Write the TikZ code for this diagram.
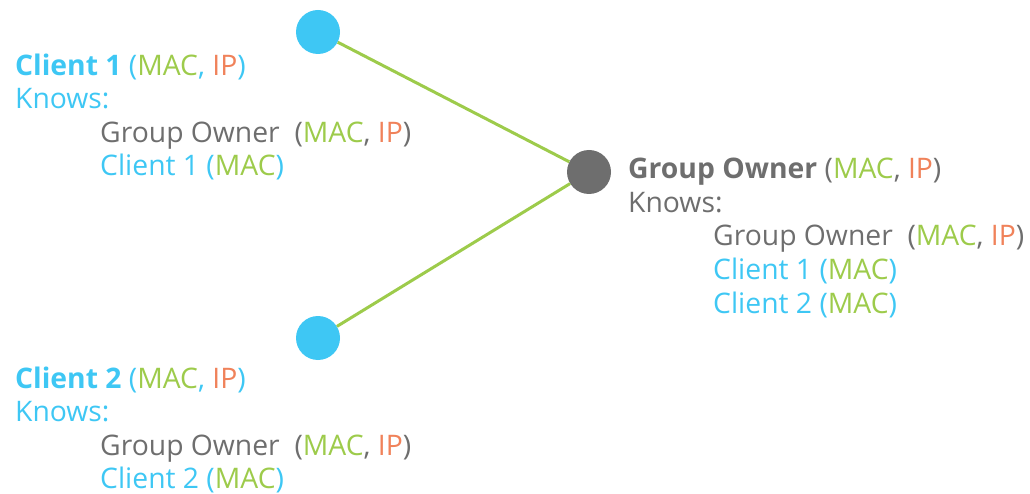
\documentclass[tikz,border=0pt]{standalone}
\usepackage{fontspec}
\setmainfont{Open Sans}
\usepackage{xcolor}
\definecolor{clientblue}{HTML}{3EC7F4}
\definecolor{macgreen}{HTML}{9DCB4B}
\definecolor{iporange}{HTML}{F0825A}
\definecolor{ownergray}{HTML}{6E6E6E}
\newcommand{\macip}{(\textcolor{macgreen}{MAC}, \textcolor{iporange}{IP})}
\newcommand{\maconly}{(\textcolor{macgreen}{MAC})}
\newcommand{\indentto}{\hspace*{85pt}}

\begin{document}
\begin{tikzpicture}[x=1pt, y=-1pt,
    device/.style={circle, inner sep=0pt, minimum size=44pt},
    info/.style={anchor=north west, inner sep=0pt, align=left,
        font=\fontsize{28.3}{33.2}\selectfont},
    link/.style={draw=macgreen, line width=3pt}]
    \useasboundingbox (0,0) rectangle (1030,494);

    \node[device, fill=clientblue] (c1) at (318,32) {};
    \node[device, fill=clientblue] (c2) at (318,338) {};
    \node[device, fill=ownergray] (go) at (589,172) {};

    \draw[link] (c1) -- (go);
    \draw[link] (c2) -- (go);

    \node[info, text=clientblue] (c1text) at (15,54) {\textbf{Client 1} \macip\\
        Knows:\\
        \indentto\textcolor{ownergray}{Group Owner~~\macip}\\
        \indentto Client 1 \maconly};
    \node[info, text=ownergray, font=\fontsize{28.3}{33.6}\selectfont] (gotext) at (628,158) {\textbf{Group Owner} \macip\\
        Knows:\\
        \indentto Group Owner~~\macip\\
        \indentto\textcolor{clientblue}{Client 1 \maconly}\\
        \indentto\textcolor{clientblue}{Client 2 \maconly}};
    \node[info, text=clientblue] (c2text) at (15,367) {\textbf{Client 2} \macip\\
        Knows:\\
        \indentto\textcolor{ownergray}{Group Owner~~\macip}\\
        \indentto Client 2 \maconly};
\end{tikzpicture}
\end{document}
